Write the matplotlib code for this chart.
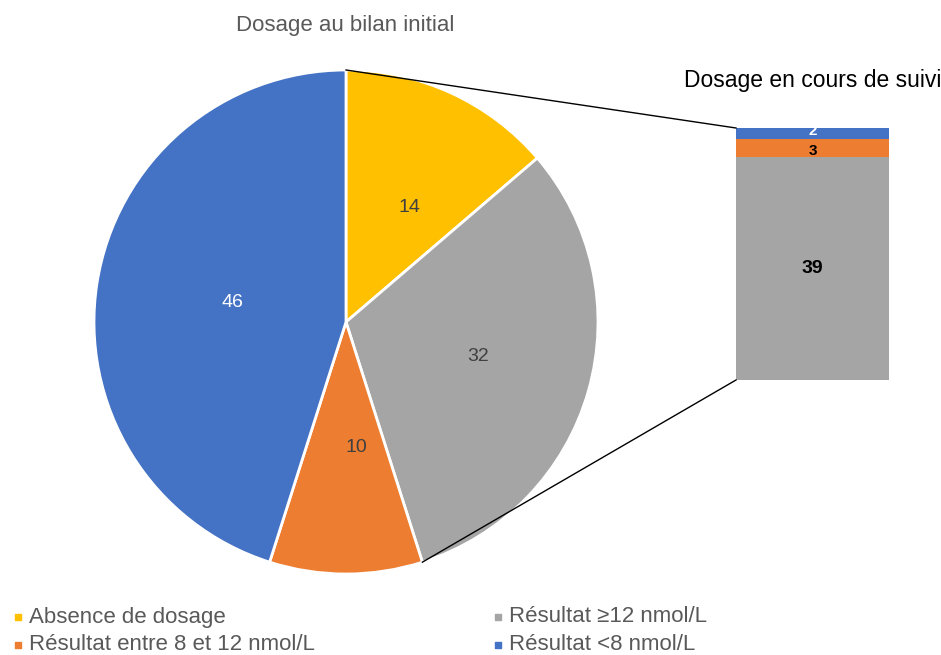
import matplotlib
matplotlib.use("Agg")
import matplotlib.pyplot as plt
import numpy as np

plt.rcParams['font.family'] = ['Liberation Sans', 'DejaVu Sans']

# Data
pie_labels = ["Absence de dosage", "Résultat ≥12 nmol/L", "Résultat entre 8 et 12 nmol/L", "Résultat <8 nmol/L"]
pie_values = [14, 32, 10, 46]
pie_colors = ["#FFC000", "#A5A5A5", "#ED7D31", "#4472C4"]

bar_labels = ["Résultat ≥12 nmol/L", "Résultat entre 8 et 12 nmol/L", "Résultat <8 nmol/L"]
bar_values = [39, 3, 2]
bar_colors = ["#A5A5A5", "#ED7D31", "#4472C4"]

legend_order = ["Absence de dosage", "Résultat entre 8 et 12 nmol/L", "Résultat ≥12 nmol/L", "Résultat <8 nmol/L"]
legend_colors = ["#FFC000", "#ED7D31", "#A5A5A5", "#4472C4"]

W, H = 941, 655
fig = plt.figure(figsize=(W / 100, H / 100), dpi=100)
ax = fig.add_axes([0, 0, 1, 1])

# Pie
cx, cy, R = 346, H - 322, 252
wedges, texts = ax.pie(pie_values, colors=pie_colors, startangle=90, counterclock=False,
                       center=(cx, cy), radius=R, labels=[str(v) for v in pie_values],
                       labeldistance=0.5,
                       wedgeprops=dict(edgecolor='white', linewidth=2),
                       textprops=dict(fontsize=14, color='#404040'))
texts[3].set_color('white')
ax.set_xlim(0, W)
ax.set_ylim(0, H)
ax.set_aspect('equal')
ax.axis('off')

# Bar
bx0, bw = 736, 153
btop, bbot = H - 128, H - 380
scale = (btop - bbot) / sum(bar_values)
bottom = bbot
bar_text_colors = ['black', 'black', 'white']
bar_text_sizes = [14, 11, 11]
bar_text_nudge = [0, -3, 3]
for v, c, tc, fs, dy in zip(bar_values, bar_colors, bar_text_colors, bar_text_sizes, bar_text_nudge):
    h = v * scale
    ax.bar(bx0 + bw / 2, h, width=bw, bottom=bottom, color=c, edgecolor='none')
    ax.text(bx0 + bw / 2, bottom + h / 2 + dy, str(v), ha='center', va='center',
            fontsize=fs, fontweight='bold', color=tc)
    bottom += h

# Connector lines
a1 = np.deg2rad(90)
a2 = np.deg2rad(90 - 360 * (pie_values[0] + pie_values[1]) / sum(pie_values))
ax.plot([cx + R * np.cos(a1), bx0], [cy + R * np.sin(a1), btop], color='black', lw=1)
ax.plot([cx + R * np.cos(a2), bx0], [cy + R * np.sin(a2), bbot], color='black', lw=1)

# Titles
ax.text(345, H - 25, "Dosage au bilan initial", ha='center', va='center', fontsize=16, color='#595959')
ax.text(684, H - 81, "Dosage en cours de suivi", ha='left', va='center', fontsize=16.5, color='black')

# Legend
pos = [(18, H - 617), (18, H - 645), (498, H - 617), (498, H - 645)]
for lbl, col, (x, y) in zip(legend_order, legend_colors, pos):
    ax.scatter([x], [y], marker='s', s=22, color=col)
    ax.text(x + 11, y, lbl, ha='left', va='center', fontsize=16, color='#595959')

fig.savefig("out.png", dpi=100)
